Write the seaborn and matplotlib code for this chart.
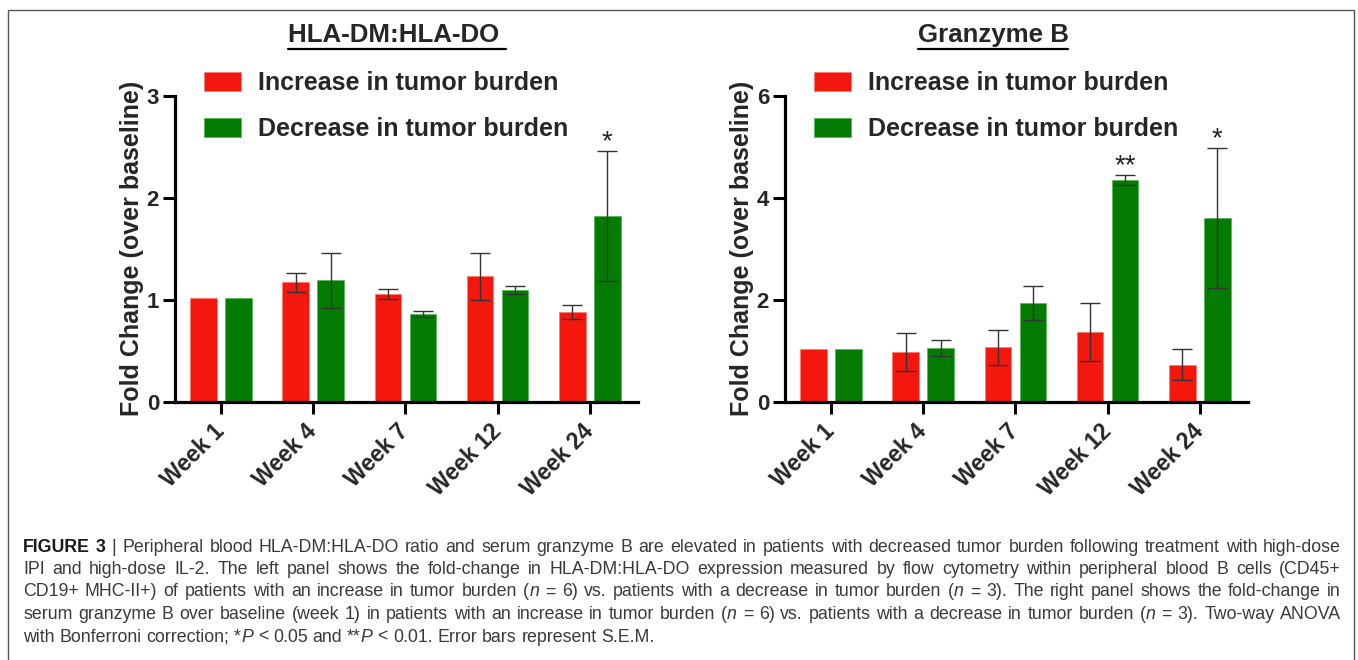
import numpy as np
import pandas as pd
import seaborn as sns
import matplotlib.pyplot as plt
from matplotlib.patches import Patch, Rectangle
from matplotlib.lines import Line2D
from matplotlib.container import BarContainer

weeks = ["Week 1", "Week 4", "Week 7", "Week 12", "Week 24"]
groups = ["Increase in tumor burden", "Decrease in tumor burden"]

hla_inc = [1.02, 1.17, 1.06, 1.23, 0.88]
hla_inc_sem = [0, 0.09, 0.05, 0.23, 0.07]
hla_dec = [1.02, 1.19, 0.86, 1.10, 1.82]
hla_dec_sem = [0, 0.27, 0.03, 0.04, 0.64]
hla_marks = ["", "", "", "", "*"]

gzb_inc = [1.03, 0.98, 1.07, 1.37, 0.73]
gzb_inc_sem = [0, 0.37, 0.34, 0.57, 0.30]
gzb_dec = [1.03, 1.05, 1.94, 4.35, 3.61]
gzb_dec_sem = [0, 0.16, 0.34, 0.10, 1.37]
gzb_marks = ["", "", "", "**", "*"]

RED = "#F4170D"
GREEN = "#047C03"
FONT = "Liberation Sans"

sns.set_style("white")
plt.rcParams['font.family'] = [FONT, 'DejaVu Sans']

fig = plt.figure(figsize=(13.58, 6.6), dpi=100)
W, H = 1358, 660


def panel(rect, inc, inc_sem, dec, dec_sem, marks, ymax, title, title_x):
    ax = fig.add_axes(rect)
    df = pd.DataFrame({
        "week": weeks * 2,
        "group": [groups[0]] * len(weeks) + [groups[1]] * len(weeks),
        "value": inc + dec,
    })
    sns.barplot(data=df, x="week", y="value", hue="group", order=weeks,
                hue_order=groups, palette=[RED, GREEN], width=0.76, gap=0.24,
                errorbar=None, legend=False, saturation=1, ax=ax)
    sems = [inc_sem, dec_sem]
    edges = ["#FF7A70", "#5DB85C"]
    bar_sets = [c for c in ax.containers if isinstance(c, BarContainer)]
    for k, cont in enumerate(bar_sets):
        for j, bar in enumerate(cont.patches):
            bar.set_edgecolor(edges[k])
            bar.set_linewidth(0.6)
            if sems[k][j] > 0:
                xc = bar.get_x() + bar.get_width() / 2
                top = bar.get_height()
                ax.errorbar(xc, top, yerr=sems[k][j], fmt="none", ecolor="#333333",
                            elinewidth=1.0, capsize=7.5, capthick=1.0, zorder=5)
                if k == 1 and marks[j]:
                    ax.annotate(marks[j], (xc, top + sems[k][j]), xytext=(0, 1),
                                textcoords="offset points", ha="center", va="baseline",
                                fontsize=20, color="#222222")
    ax.set_xlim(-0.5, 4.52)
    ax.set_ylim(0, ymax)
    ticks = np.arange(0, ymax + 0.1, ymax / 3)
    ax.set_yticks(ticks)
    ax.set_yticklabels([str(int(v)) for v in ticks])
    ax.set_xlabel("")
    ax.set_ylabel("Fold Change (over baseline)", fontsize=18, fontweight="bold", labelpad=2)
    for s in ["top", "right"]:
        ax.spines[s].set_visible(False)
    for s in ["left", "bottom"]:
        ax.spines[s].set_linewidth(2.3)
        ax.spines[s].set_color("black")
    ax.tick_params(axis="both", direction="out", length=8.5, width=2.2, color="black",
                   left=True, bottom=True)
    ax.tick_params(axis="y", labelsize=16, pad=3)
    ax.tick_params(axis="x", labelsize=16.5, pad=10)
    for lab in ax.get_yticklabels():
        lab.set_fontweight("bold")
    for lab in ax.get_xticklabels():
        lab.set_fontweight("bold")
        lab.set_rotation(45)
        lab.set_ha("right")
        lab.set_va("center")
        lab.set_rotation_mode("anchor")
    handles = [Patch(facecolor=RED, edgecolor=edges[0], lw=0.6),
               Patch(facecolor=GREEN, edgecolor=edges[1], lw=0.6)]
    leg_x = (rect[0] * W + 29) / W
    fig.legend(handles, groups, loc="upper left", bbox_to_anchor=(leg_x, 1 - 71 / H),
               frameon=False, borderpad=0, borderaxespad=0, handlelength=1.5,
               handleheight=0.8, handletextpad=0.65, labelspacing=0.9,
               prop={"family": FONT, "weight": "bold", "size": 18})
    t = fig.text(title_x / W, 1 - 35 / H, title, ha="center", va="center",
                 fontsize=18.6, fontweight="bold")
    return ax, t


axl, tl = panel([175 / W, 1 - 401.7 / H, 462.7 / W, 305.7 / H], hla_inc, hla_inc_sem,
                hla_dec, hla_dec_sem, hla_marks, 3, "HLA-DM:HLA-DO ", 397)
axr, tr = panel([785 / W, 1 - 401.7 / H, 462.7 / W, 305.7 / H], gzb_inc, gzb_inc_sem,
                gzb_dec, gzb_dec_sem, gzb_marks, 6, "Granzyme B", 993)

# frame around the figure
fig.add_artist(Rectangle((8 / W, -0.1), (1354 - 8) / W, 1.1 - 10 / H,
                         transform=fig.transFigure, fill=False, edgecolor="#555555", lw=1.0))

renderer = fig.canvas.get_renderer()
for t in [tl, tr]:
    bb = t.get_window_extent(renderer)
    fig.add_artist(Line2D([bb.x0 / W, bb.x1 / W], [(H - 48.5) / H] * 2,
                          transform=fig.transFigure, color="black", lw=1.6))

# caption
caption = [
    [("FIGURE 3", "bold"), (" | Peripheral blood HLA-DM:HLA-DO ratio and serum granzyme B are elevated in patients with decreased tumor burden following treatment with high-dose", "normal")],
    [("IPI and high-dose IL-2. The left panel shows the fold-change in HLA-DM:HLA-DO expression measured by flow cytometry within peripheral blood B cells (CD45+", "normal")],
    [("CD19+ MHC-II+) of patients with an increase in tumor burden (", "normal"), ("n", "italic"),
     (" = 6) vs. patients with a decrease in tumor burden (", "normal"), ("n", "italic"),
     (" = 3). The right panel shows the fold-change in", "normal")],
    [("serum granzyme B over baseline (week 1) in patients with an increase in tumor burden (", "normal"), ("n", "italic"),
     (" = 6) vs. patients with a decrease in tumor burden (", "normal"), ("n", "italic"),
     (" = 3). Two-way ANOVA", "normal")],
    [("with Bonferroni correction; *", "normal"), ("P", "italic"), (" < 0.05 and **", "normal"),
     ("P", "italic"), (" < 0.01. Error bars represent S.E.M.", "normal")],
]
cap_x0, cap_x1 = 23, 1341
cap_y0, cap_dy = 547, 22.5
cap_size = 12.8


def make_text(s, style, x, y):
    kw = dict(fontsize=cap_size, color="#3a3a3a", va="center", ha="left")
    if style == "bold":
        kw.update(fontweight="bold", color="#1a1a1a")
    elif style == "italic":
        kw.update(fontstyle="italic")
    return fig.text(x / W, 1 - y / H, s, **kw)


for li, runs in enumerate(caption):
    y = cap_y0 + li * cap_dy
    words = []
    for s, style in runs:
        parts = s.split(" ")
        for pi, p in enumerate(parts):
            if pi > 0 or not words:
                words.append([])
            if p:
                words[-1].append((p, style))
    words = [w for w in words if w]
    widths = []
    for w in words:
        ws = []
        for s, style in w:
            t = make_text(s, style, 0, y)
            ws.append(t.get_window_extent(renderer).width)
            t.remove()
        widths.append(ws)
    total = sum(sum(ws) for ws in widths)
    if li < len(caption) - 1:
        gap = (cap_x1 - cap_x0 - total) / (len(words) - 1)
    else:
        sp = make_text("a a", "normal", 0, y)
        sp2 = make_text("aa", "normal", 0, y)
        gap = sp.get_window_extent(renderer).width - sp2.get_window_extent(renderer).width
        sp.remove()
        sp2.remove()
    x = cap_x0
    for w, ws in zip(words, widths):
        for (s, style), wd in zip(w, ws):
            make_text(s, style, x, y)
            x += wd
        x += gap

fig.savefig("out.png", dpi=100)
